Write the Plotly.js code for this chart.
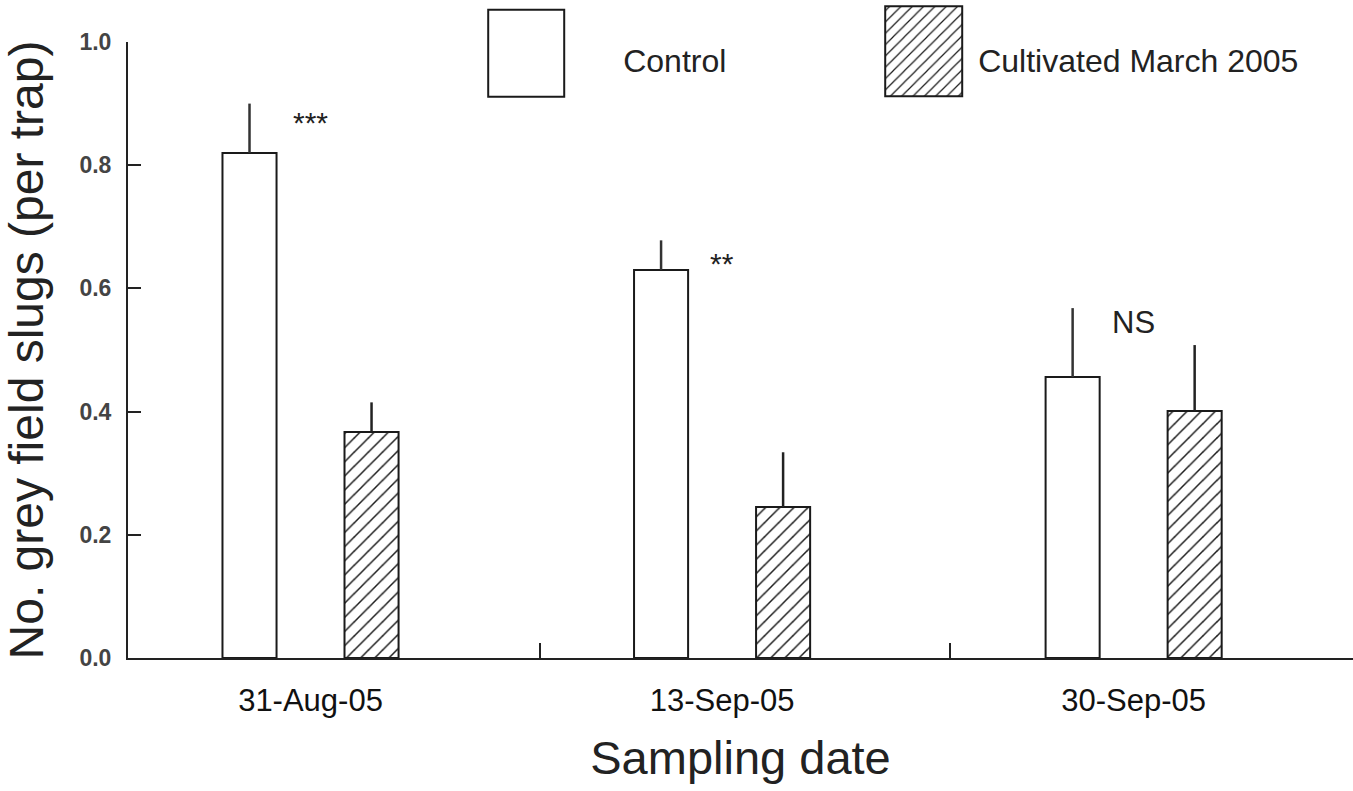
<!DOCTYPE html>
<html>
<head>
<meta charset="utf-8">
<script src="https://cdn.plot.ly/plotly-3.0.1.min.js"></script>
<style>
  html, body { margin: 0; padding: 0; background: #ffffff; }
  #chart { width: 1353px; height: 791px; }
</style>
</head>
<body>
<div id="chart"></div>
<script>
// ---- data ----
const categories = ['31-Aug-05', '13-Sep-05', '30-Sep-05'];
const seriesNames = ['Control', 'Cultivated March 2005'];
const controlValues = [0.82, 0.63, 0.456];
const controlErrors = [0.08, 0.048, 0.112];
const cultivatedValues = [0.367, 0.245, 0.401];
const cultivatedErrors = [0.048, 0.089, 0.107];
const significance = ['***', '**', 'NS'];
const yTickValues = [0, 0.2, 0.4, 0.6, 0.8, 1.0];

// ---- chart ----
const FONT = 'Liberation Sans, Arial, Helvetica, sans-serif';
const xIdx = categories.map((_, i) => i);
const zeros = arr => arr.map(() => 0);

const traces = [
  {
    type: 'bar', name: seriesNames[0], x: xIdx, y: controlValues,
    marker: { color: '#ffffff', line: { color: '#1a1a1a', width: 2 } },
    error_y: { type: 'data', symmetric: false, array: controlErrors, arrayminus: zeros(controlErrors),
               width: 0, thickness: 2.5, color: '#333333' },
    hoverinfo: 'skip'
  },
  {
    type: 'bar', name: seriesNames[1], x: xIdx, y: cultivatedValues,
    marker: { color: '#ffffff', line: { color: '#1a1a1a', width: 2 },
              pattern: { shape: '/', fgcolor: '#1a1a1a', bgcolor: '#ffffff', size: 10, solidity: 0.15 } },
    error_y: { type: 'data', symmetric: false, array: cultivatedErrors, arrayminus: zeros(cultivatedErrors),
               width: 0, thickness: 2.5, color: '#222222' },
    hoverinfo: 'skip'
  }
];

const sigY = [0.87, 0.64, 0.545];
const sigSize = [30, 30, 31];
const annotations = significance.map((t, i) => ({
  x: i, y: sigY[i], xref: 'x', yref: 'y', text: t, showarrow: false,
  xanchor: 'center', yanchor: 'middle',
  font: { family: FONT, size: sigSize[i], color: '#222222' }
}));

const layout = {
  width: 1353, height: 791,
  margin: { l: 128, r: 0, t: 42, b: 133, pad: 0 },
  paper_bgcolor: '#ffffff', plot_bgcolor: '#ffffff',
  barmode: 'group', bargap: 0.407, bargroupgap: 0.557,
  font: { family: FONT, color: '#222222' },
  showlegend: true,
  xaxis: {
    type: 'linear', range: [-0.4435, 2.533], fixedrange: true,
    tickmode: 'array', tickvals: xIdx, ticktext: categories, ticks: '',
    tickfont: { family: FONT, size: 31, color: '#111111' }, ticklabelstandoff: 14,
    showline: true, linecolor: '#222222', linewidth: 2, showgrid: false, zeroline: false,
    minor: { tickmode: 'array', tickvals: [0.558, 1.554], ticks: 'inside', ticklen: 15,
             tickwidth: 2, tickcolor: '#222222', showgrid: false },
    title: { text: 'Sampling date', font: { family: FONT, size: 47, color: '#222222' }, standoff: 24 }
  },
  yaxis: {
    range: [0, 1.0], fixedrange: true,
    tickmode: 'array', tickvals: yTickValues, tickformat: '.1f',
    ticks: 'inside', ticklen: 13, tickwidth: 2, tickcolor: '#222222',
    tickfont: { family: FONT, size: 23, color: '#444444', weight: 'bold' }, ticklabelstandoff: 10,
    showline: true, linecolor: '#222222', linewidth: 2, showgrid: false, zeroline: false,
    title: { text: 'No. grey field slugs (per trap)', font: { family: FONT, size: 48, color: '#222222' }, standoff: 22 }
  },
  legend: {
    x: 0.3716, y: 0.971, xanchor: 'left', yanchor: 'middle', orientation: 'h',
    entrywidth: 310, entrywidthmode: 'pixels',
    font: { family: FONT, size: 32, color: '#222222' }, bgcolor: 'rgba(0,0,0,0)', borderwidth: 0
  },
  annotations: annotations
};

// enlarge the legend keys so they look like the reference's big boxes
const keySpecs = [
  { dx: -97,   w: 76, top: -50,   bottom: 37 },
  { dx: -54.5, w: 77, top: -53.5, bottom: 36.5 }
];

function enlargeKeys() {
  document.querySelectorAll('text.legendtext').forEach(txt => {
    const name = txt.textContent.trim();
    const k = seriesNames.findIndex(n => name.indexOf(n) === 0 || n.indexOf(name) === 0);
    const s = keySpecs[k];
    if (!s) return;
    let el = txt.parentNode;
    while (el && el.tagName && el.tagName.toLowerCase() !== 'svg') {
      el.removeAttribute('clip-path');
      el = el.parentNode;
    }
    let item = txt.parentNode;
    let paths = item.querySelectorAll('.legendpoints path');
    let hops = 0;
    while (!paths.length && item.parentNode && hops < 4) {
      item = item.parentNode; hops++;
      paths = item.querySelectorAll('.legendpoints path');
    }
    if (!paths.length) return;
    const tx = parseFloat(txt.getAttribute('x')) || 40;
    const cx = tx + s.dx;
    const x0 = cx - s.w / 2, x1 = cx + s.w / 2;
    paths.forEach(path => {
      path.setAttribute('transform', 'translate(0,0)');
      path.setAttribute('d', `M${x0},${s.top}H${x1}V${s.bottom}H${x0}Z`);
    });
  });
}

Plotly.newPlot('chart', traces, layout, { displayModeBar: false, staticPlot: true })
  .then(gd => {
    enlargeKeys();
    setTimeout(enlargeKeys, 50);
  });
</script>
</body>
</html>
